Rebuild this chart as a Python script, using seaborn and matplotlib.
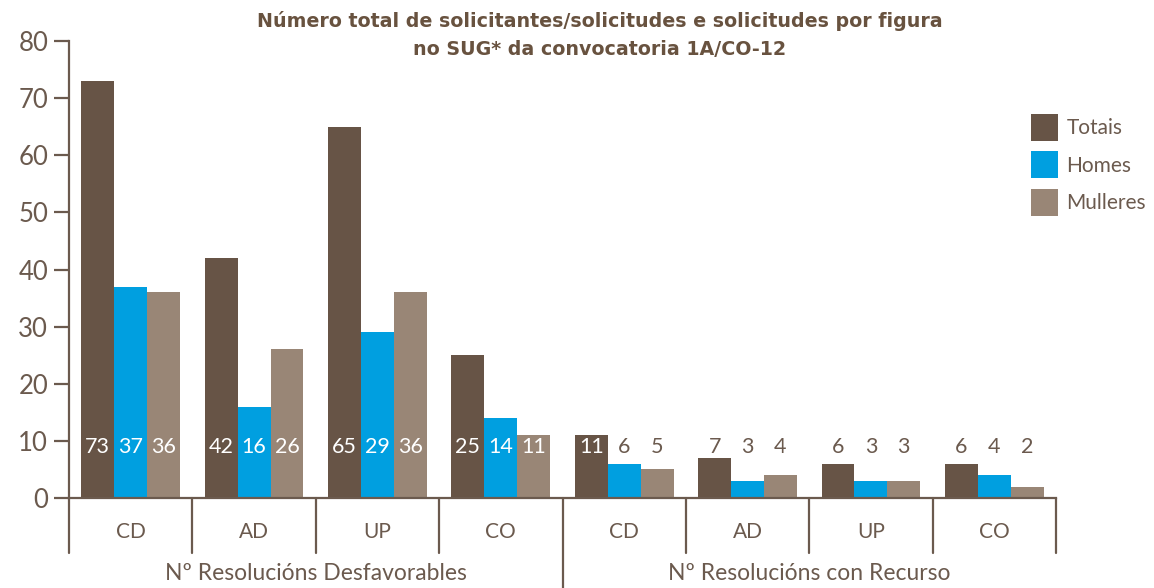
import matplotlib
matplotlib.use("Agg")
import matplotlib.pyplot as plt
import seaborn as sns
import pandas as pd


# datos
grupos     = ["Nº Resolucións Desfavorables", "Nº Resolucións con Recurso"]
figuras    = ["CD", "AD", "UP", "CO"]
series     = ["Totais", "Homes", "Mulleres"]
totais     = [73, 42, 65, 25, 11, 7, 6, 6]
homes      = [37, 16, 29, 14, 6, 3, 3, 4]
mulleres   = [36, 26, 36, 11, 5, 4, 3, 2]
yticks     = [0, 10, 20, 30, 40, 50, 60, 70, 80]

COLORS = {"Totais": "#675446", "Homes": "#009fe0", "Mulleres": "#998676"}
TEXT   = "#6b5a4e"
FONT   = ["Lato", "DejaVu Sans"]

claves = [f"{g}|{f}" for g in grupos for f in figuras]
rows = []
for s, vals in zip(series, [totais, homes, mulleres]):
    for k, v in zip(claves, vals):
        rows.append({"clave": k, "serie": s, "valor": v})
df = pd.DataFrame(rows)

sns.set_style("white")
plt.rcParams["font.family"] = FONT

fig = plt.figure(figsize=(11.54, 5.88), dpi=100)
W, H = 1154, 588
ax = fig.add_axes([69 / W, 1 - 498 / H, (1056 - 69) / W, (498 - 41) / H])

sns.barplot(data=df, x="clave", y="valor", hue="serie", order=claves,
            hue_order=series, palette=COLORS, width=0.8, saturation=1,
            linewidth=0, ax=ax, errorbar=None)

ax.set_xlim(-0.5, len(claves) - 0.5)
ax.set_ylim(0, 80)
ax.set_yticks(yticks)
ax.set_yticklabels([str(t) for t in yticks], fontsize=18.5, color=TEXT)
ax.tick_params(axis="y", length=11, width=1.6, color=TEXT, pad=4, left=True)
ax.set_xticks(range(len(claves)))
ax.set_xticklabels(figuras * 2, fontsize=15, color=TEXT)
ax.tick_params(axis="x", length=0, pad=17)
ax.set_xlabel("")
ax.set_ylabel("")

sns.despine(ax=ax, top=True, right=True)
for side in ["left", "bottom"]:
    ax.spines[side].set_color(TEXT)
    ax.spines[side].set_linewidth(1.6)

# etiquetas de valor
for cont in ax.containers:
    for bar in cont:
        v = bar.get_height()
        col = "white" if v > 9 else TEXT
        ax.text(bar.get_x() + bar.get_width() / 2, 8.9, f"{int(v)}",
                ha="center", va="center", fontsize=15.5, color=col)

# separadores do eixo x
tr = ax.get_xaxis_transform()
bottom_short = -(553 - 498) / 457
bottom_long = -(588 - 498) / 457
for i in range(len(claves) + 1):
    x = i - 0.5
    y0 = bottom_long if i == 4 else bottom_short
    ax.plot([x, x], [0, y0], transform=tr, color=TEXT, lw=1.6, clip_on=False)

for j, g in enumerate(grupos):
    ax.text(j * 4 + 1.5, -(574 - 498) / 457, g, transform=tr, ha="center",
            va="center", fontsize=16.5, color=TEXT)

handles, labels = ax.get_legend_handles_labels()
ax.legend_.remove()
fig.legend(handles, labels, loc="upper left", bbox_to_anchor=(1031 / W, 1 - 114 / H),
           frameon=False, fontsize=15, handlelength=1.3, handleheight=1.62,
           labelspacing=0.5, handletextpad=0.4, borderpad=0, borderaxespad=0,
           labelcolor=TEXT)

fig.text(600 / W, 1 - 11 / H,
         "Número total de solicitantes/solicitudes e solicitudes por figura\n"
         "no SUG* da convocatoria 1A/CO-12",
         ha="center", va="top", fontsize=13.7, fontweight="bold", color="#68523f",
         family="DejaVu Sans", linespacing=1.62)

fig.savefig("out.png", dpi=100)
